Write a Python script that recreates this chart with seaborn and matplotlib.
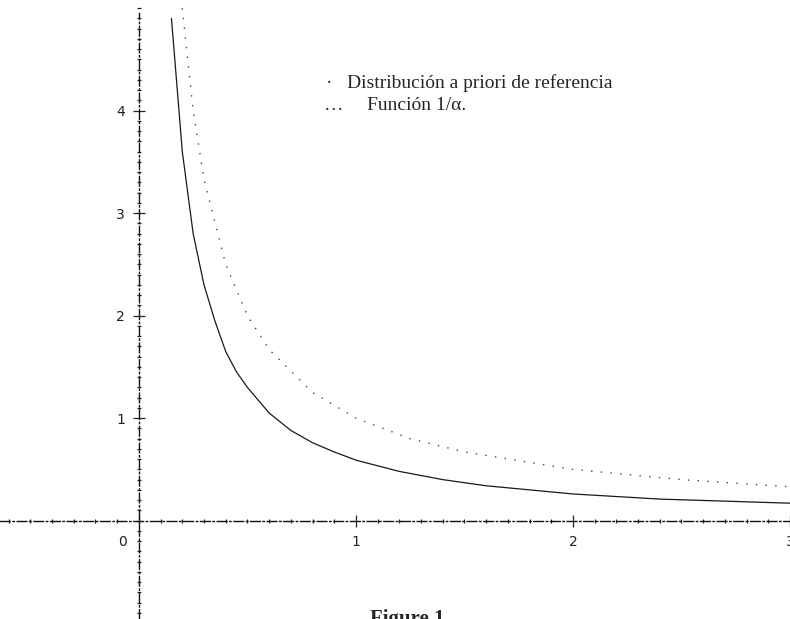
import numpy as np
import pandas as pd
import matplotlib
matplotlib.use("Agg")
import matplotlib.pyplot as plt
import matplotlib.transforms as mtransforms
from matplotlib.ticker import MultipleLocator
import seaborn as sns

# --- datos ---
alpha_ref = [0.15, 0.2, 0.25, 0.3, 0.35, 0.4, 0.45, 0.5, 0.6, 0.7, 0.8, 0.9,
             1.0, 1.2, 1.4, 1.6, 1.8, 2.0, 2.4, 2.7, 3.0]
prior_ref = [4.9, 3.6, 2.8, 2.3, 1.95, 1.65, 1.45, 1.3, 1.05, 0.88, 0.76, 0.67,
             0.59, 0.48, 0.4, 0.34, 0.3, 0.26, 0.21, 0.19, 0.17]

alpha_inv = [0.2, 0.25, 0.3, 0.4, 0.5, 0.6, 0.8, 1.0, 1.25, 1.5, 2.0, 2.5, 3.0]
inv_vals = [5.0, 4.0, 3.33, 2.5, 2.0, 1.67, 1.25, 1.0, 0.8, 0.67, 0.5, 0.4, 0.33]

x_ticks = [0, 1, 2, 3]
y_ticks = [1, 2, 3, 4]
legend_lines = ["Distribución a priori de referencia", "Función 1/α."]
caption = "Figure 1"

sns.set_style("white")
plt.rcParams['font.family'] = ['DejaVu Sans']

fig = plt.figure(figsize=(7.9, 6.19), dpi=100)
ax = fig.add_axes([0, 0, 1, 1])

df_ref = pd.DataFrame({"alpha": alpha_ref, "valor": prior_ref})
df_inv = pd.DataFrame({"alpha": alpha_inv, "valor": inv_vals})

sns.lineplot(data=df_ref, x="alpha", y="valor", ax=ax, color="#1a1a1a",
             lw=0.9, estimator=None, sort=True)
sns.lineplot(data=df_inv, x="alpha", y="valor", ax=ax, color="#444444",
             lw=1.0, linestyle=(0, (1, 6)), estimator=None, sort=True)

ax.set_xlim(-0.64, 3.0)
ax.set_ylim(-0.96, 5.08)

# ejes cruzando en el origen
for s in ["top", "right"]:
    ax.spines[s].set_visible(False)
ax.spines["left"].set_position(("data", 0))
ax.spines["bottom"].set_position(("data", 0))
for s in ["left", "bottom"]:
    ax.spines[s].set_linestyle((0, (7, 2, 1, 2)))
    ax.spines[s].set_linewidth(1.0)
    ax.spines[s].set_color("#111111")
ax.spines["left"].set_bounds(-0.96, 4.95)

ax.set_xticks(x_ticks)
ax.set_yticks(y_ticks)
ax.set_xticklabels([str(v) for v in x_ticks])
ax.set_yticklabels([str(v) for v in y_ticks])
ax.xaxis.set_minor_locator(MultipleLocator(0.1))
ax.yaxis.set_minor_locator(MultipleLocator(0.1))
ax.tick_params(which="both", bottom=True, left=True, top=False, right=False)
ax.tick_params(which="major", direction="inout", length=8, width=0.9,
               labelsize=10, colors="#222222", pad=6)
ax.tick_params(which="minor", direction="inout", length=3, width=0.9,
               colors="#222222")
ax.set_xlabel("")
ax.set_ylabel("")

# el "0" va a la izquierda del eje vertical
lbl0 = ax.get_xticklabels()[0]
lbl0.set_transform(lbl0.get_transform() +
                   mtransforms.ScaledTranslation(-12 / 72, 0, fig.dpi_scale_trans))

# leyenda como texto
serif = ['Liberation Serif', 'DejaVu Serif']
ax.text(0.412, 0.858, "·", transform=ax.transAxes, fontsize=14,
        family=serif, va="baseline", ha="left")
ax.text(0.439, 0.858, legend_lines[0], transform=ax.transAxes, fontsize=14,
        family=serif, va="baseline", ha="left")
ax.text(0.410, 0.823, "…", transform=ax.transAxes, fontsize=14,
        family=serif, va="baseline", ha="left")
ax.text(0.464, 0.823, legend_lines[1], transform=ax.transAxes, fontsize=14,
        family=serif, va="baseline", ha="left")

fig.text(0.515, 0.0, caption, ha="center", va="center", fontsize=15,
         fontweight="bold", family=serif)

fig.savefig("out.png", dpi=100)
